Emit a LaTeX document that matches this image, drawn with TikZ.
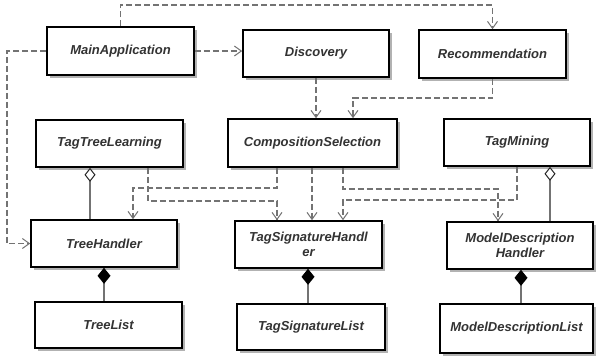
\documentclass[tikz,border=0pt]{standalone}
\usepackage{fontspec}
\setmainfont{Liberation Sans}
\usetikzlibrary{arrows.meta,shadows}
\begin{document}
\begin{tikzpicture}[x=1pt,y=-1pt,
  box/.style={draw=black, line width=1.6pt, fill=white,
    font=\bfseries\itshape\fontsize{13}{15}\selectfont, text=black!80,
    align=center, inner sep=0pt,
    drop shadow={shadow xshift=3pt, shadow yshift=-3pt, fill=black!30, opacity=1}},
  dep/.style={draw=black!55, line width=1.3pt, dash pattern=on 6pt off 3pt,
    -{Straight Barb[length=7pt,width=10pt,line width=1pt]}},
  agg/.style={draw=black!55, line width=1.2pt,
    {Diamond[open,fill=white,length=14pt,width=11pt,color=black!85,line width=1pt]}-},
  comp/.style={draw=black!55, line width=1.2pt,
    {Diamond[length=16pt,width=13pt,color=black]}-}
]
\useasboundingbox[fill=white] (0,0) rectangle (605,357);

\node[box, minimum width=147pt, minimum height=48pt] (main) at (120.5,51) {MainApplication};
\node[box, minimum width=146pt, minimum height=47pt] (disc) at (316,53.5) {Discovery};
\node[box, minimum width=147pt, minimum height=48pt] (rec) at (492.5,54) {Recommendation};
\node[box, minimum width=147pt, minimum height=47pt] (ttl) at (109.5,143.5) {TagTreeLearning};
\node[box, minimum width=169pt, minimum height=48pt] (cs) at (312.5,143) {CompositionSelection};
\node[box, minimum width=146pt, minimum height=47pt] (tm) at (517,142.5) {TagMining};
\node[box, minimum width=146pt, minimum height=47pt] (th) at (104,243.5) {TreeHandler};
\node[box, minimum width=147pt, minimum height=47pt] (tsh) at (308.5,244.5) {TagSignatureHandl\\er};
\node[box, minimum width=146pt, minimum height=47pt] (mdh) at (520,245.5) {ModelDescription\\Handler};
\node[box, minimum width=147pt, minimum height=46pt] (tl) at (108.5,325) {TreeList};
\node[box, minimum width=148pt, minimum height=46pt] (tsl) at (311,327) {TagSignatureList};
\node[box, minimum width=153pt, minimum height=49pt] (mdl) at (516.5,328.5) {ModelDescriptionList};

% dependencies
\draw[dep] (main.north) -- (main.north |- 0,5) -| (rec.north);
\draw[dep] (main.east) -- (disc.west |- main.east);
\draw[dep] (main.west) -- (main.west -| 7,0) |- (th.west);
\draw[dep] (disc.south) -- (cs.north -| disc.south);
\draw[dep] (rec.south) -- (rec.south |- 0,98) -| (cs.north -| 353,0);
\draw[dep] (ttl.south -| 148,0) -- (148,201) -- (277,201) -- (tsh.north -| 277,0);
\draw[dep] (cs.south -| 277,0) -- (277,188) -- (133,188) -- (th.north -| 133,0);
\draw[dep] (cs.south -| 312,0) -- (tsh.north -| 312,0);
\draw[dep] (cs.south -| 343,0) -- (343,189) -- (498,189) -- (mdh.north -| 498,0);
\draw[dep] (tm.south -| 517,0) -- (517,200) -- (343,200) -- (tsh.north -| 343,0);

% aggregations
\draw[agg] (ttl.south -| 90,0) -- (th.north -| 90,0);
\draw[agg] (tm.south -| 550,0) -- (mdh.north -| 550,0);

% compositions
\draw[comp] (th.south -| 104,0) -- (tl.north -| 104,0);
\draw[comp] (tsh.south -| 308,0) -- (tsl.north -| 308,0);
\draw[comp] (mdh.south -| 521,0) -- (mdl.north -| 521,0);
\end{tikzpicture}
\end{document}
